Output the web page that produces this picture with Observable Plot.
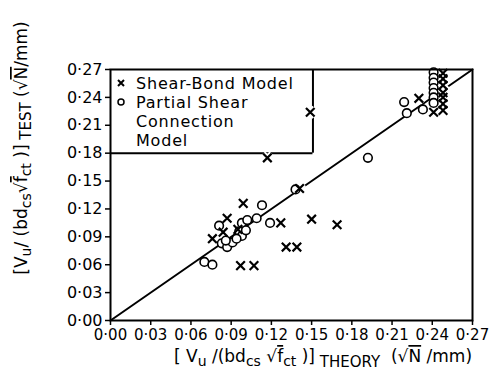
<!DOCTYPE html>
<html><head><meta charset="utf-8">
<script src="https://cdn.jsdelivr.net/npm/d3@7"></script>
<script src="https://cdn.jsdelivr.net/npm/@observablehq/plot@0.6"></script>
<style>
body{margin:0;background:#fff}
svg{font-family:"DejaVu Sans",sans-serif}
</style>
</head><body><div id="chart"></div>
<script>
// ---- data ----
const axisTicks = [0, 0.03, 0.06, 0.09, 0.12, 0.15, 0.18, 0.21, 0.24, 0.27];
const xTickLabels = ["0·00","0·03","0·06","0·09","0·12","0·15","0·18","0·21","0·24","0·27"];
const yTickLabels = ["0·00","0·03","0·06","0·09","0·12","0·15","0·18","0·21","0·24","0·27"];

const shearBondTheory = [0.076,0.087,0.099,0.084,0.095,0.097,0.107,0.127,0.131,0.139,0.141,0.150,0.169,0.117,0.149,0.230,0.241,0.248,0.248,0.248,0.248,0.248,0.248,0.248];
const shearBondTest   = [0.088,0.110,0.126,0.095,0.098,0.059,0.059,0.105,0.079,0.079,0.142,0.109,0.103,0.175,0.224,0.239,0.224,0.266,0.260,0.253,0.245,0.240,0.233,0.226];

const partialTheory = [0.070,0.076,0.081,0.083,0.087,0.091,0.096,0.098,0.098,0.102,0.101,0.109,0.113,0.119,0.138,0.192,0.219,0.221,0.233,0.241,0.241,0.241,0.241,0.241,0.241,0.241,0.086,0.094];
const partialTest   = [0.063,0.060,0.102,0.083,0.079,0.084,0.096,0.091,0.105,0.108,0.097,0.110,0.124,0.105,0.141,0.175,0.235,0.223,0.227,0.267,0.261,0.256,0.250,0.245,0.240,0.234,0.086,0.088];

const equalityLine = [0, 0.27];
const legendBoxRight = 0.151;   // legend box extent (data units)
const legendBoxBottom = 0.18;
const legendLabels = ["Shear-Bond Model", "Partial Shear", "Connection", "Model"];

// ---- tables ----
const shearBond = shearBondTheory.map((x, i) => ({x, y: shearBondTest[i]}));
const partial = partialTheory.map((x, i) => ({x, y: partialTest[i]}));
const diag = equalityLine.map(v => ({x: v, y: v}));

const plot = Plot.plot({
  width: 496, height: 387,
  marginLeft: 110, marginRight: 24, marginTop: 69, marginBottom: 67,
  style: {fontFamily: "DejaVu Sans, sans-serif", color: "#000", background: "#fff"},
  x: {domain: [0, 0.27], label: null},
  y: {domain: [0, 0.27], label: null},
  marks: [
    Plot.line(diag, {x: "x", y: "y", stroke: "#000", strokeWidth: 2}),
    Plot.ruleY([legendBoxBottom], {x1: 0, x2: legendBoxRight, stroke: "#000", strokeWidth: 2}),
    Plot.ruleX([legendBoxRight], {y1: legendBoxBottom, y2: 0.27, stroke: "#000", strokeWidth: 2}),
    Plot.dot(shearBond, {x: "x", y: "y", symbol: "times", r: 4, stroke: "#fff", strokeWidth: 6}),
    Plot.dot(partial, {x: "x", y: "y", r: 4.3, fill: "#fff", stroke: "#000", strokeWidth: 1.6}),
    Plot.dot(shearBond, {x: "x", y: "y", symbol: "times", r: 4, stroke: "#000", strokeWidth: 2.2}),
    Plot.frame({stroke: "#000", strokeWidth: 2}),
    Plot.axisX({ticks: axisTicks, tickSize: 5, tickPadding: 4, strokeWidth: 1.5, fontSize: 15,
      tickFormat: d => xTickLabels[axisTicks.indexOf(d)]}),
    Plot.axisY({ticks: axisTicks, tickSize: 5, tickPadding: 3, strokeWidth: 1.5, fontSize: 16,
      tickFormat: d => yTickLabels[axisTicks.indexOf(d)]})
  ]
});
document.getElementById("chart").append(plot);

// ---- legend and axis titles ----
const svg = d3.select(plot);
const sx = plot.scale("x"), sy = plot.scale("y");
const lx = sx.apply(0), ly = sy.apply(0.27);
const g = svg.append("g").attr("fill", "#000").attr("text-anchor", "start")
  .style("font-size", "16px").style("letter-spacing", "0.8px");
const lineYs = [14, 33, 52, 71];
legendLabels.forEach((t, i) => {
  g.append("text").attr("x", lx + 26).attr("y", ly + lineYs[i] + 6).text(t);
});
// legend symbols
const sym1y = ly + lineYs[0];
g.append("path").attr("d", `M${lx+8},${sym1y-3}L${lx+14},${sym1y+3}M${lx+14},${sym1y-3}L${lx+8},${sym1y+3}`)
  .attr("stroke", "#000").attr("stroke-width", 2);
g.append("circle").attr("cx", lx + 11).attr("cy", ly + lineYs[1]).attr("r", 3)
  .attr("fill", "none").attr("stroke", "#000").attr("stroke-width", 1.5);

function richText(sel, parts) {
  parts.forEach(p => {
    const t = sel.append("tspan").text(p.t);
    if (p.dy) t.attr("dy", p.dy);
    if (p.fs) t.style("font-size", p.fs);
    if (p.over) t.style("text-decoration", "overline");
  });
}
const xl = svg.append("text").attr("x", 323).attr("y", 362).attr("text-anchor", "middle")
  .style("font-size", "17px").attr("fill", "#000");
richText(xl, [
  {t: "[ V"}, {t: "u", dy: 4, fs: "14px"}, {t: " /(bd", dy: -4}, {t: "cs", dy: 4, fs: "14px"},
  {t: " √", dy: -4}, {t: "f", over: true}, {t: "ct", dy: 4, fs: "14px"}, {t: " )]", dy: -4},
  {t: " THEORY", dy: 5, fs: "15px"}, {t: "  (√", dy: -5}, {t: "N", over: true}, {t: " /mm)"}
]);
const yl = svg.append("text").attr("transform", "translate(27,148) rotate(-90)").attr("text-anchor", "middle")
  .style("font-size", "17px").attr("fill", "#000");
richText(yl, [
  {t: "[V"}, {t: "u", dy: 4, fs: "14px"}, {t: "/ (bd", dy: -4}, {t: "cs", dy: 4, fs: "14px"},
  {t: "√", dy: -4}, {t: "f", over: true}, {t: "ct", dy: 4, fs: "14px"}, {t: " )]", dy: -4},
  {t: " TEST", dy: 4, fs: "15px"}, {t: " (√", dy: -4}, {t: "N", over: true}, {t: "/mm)"}
]);
</script>
</body></html>
